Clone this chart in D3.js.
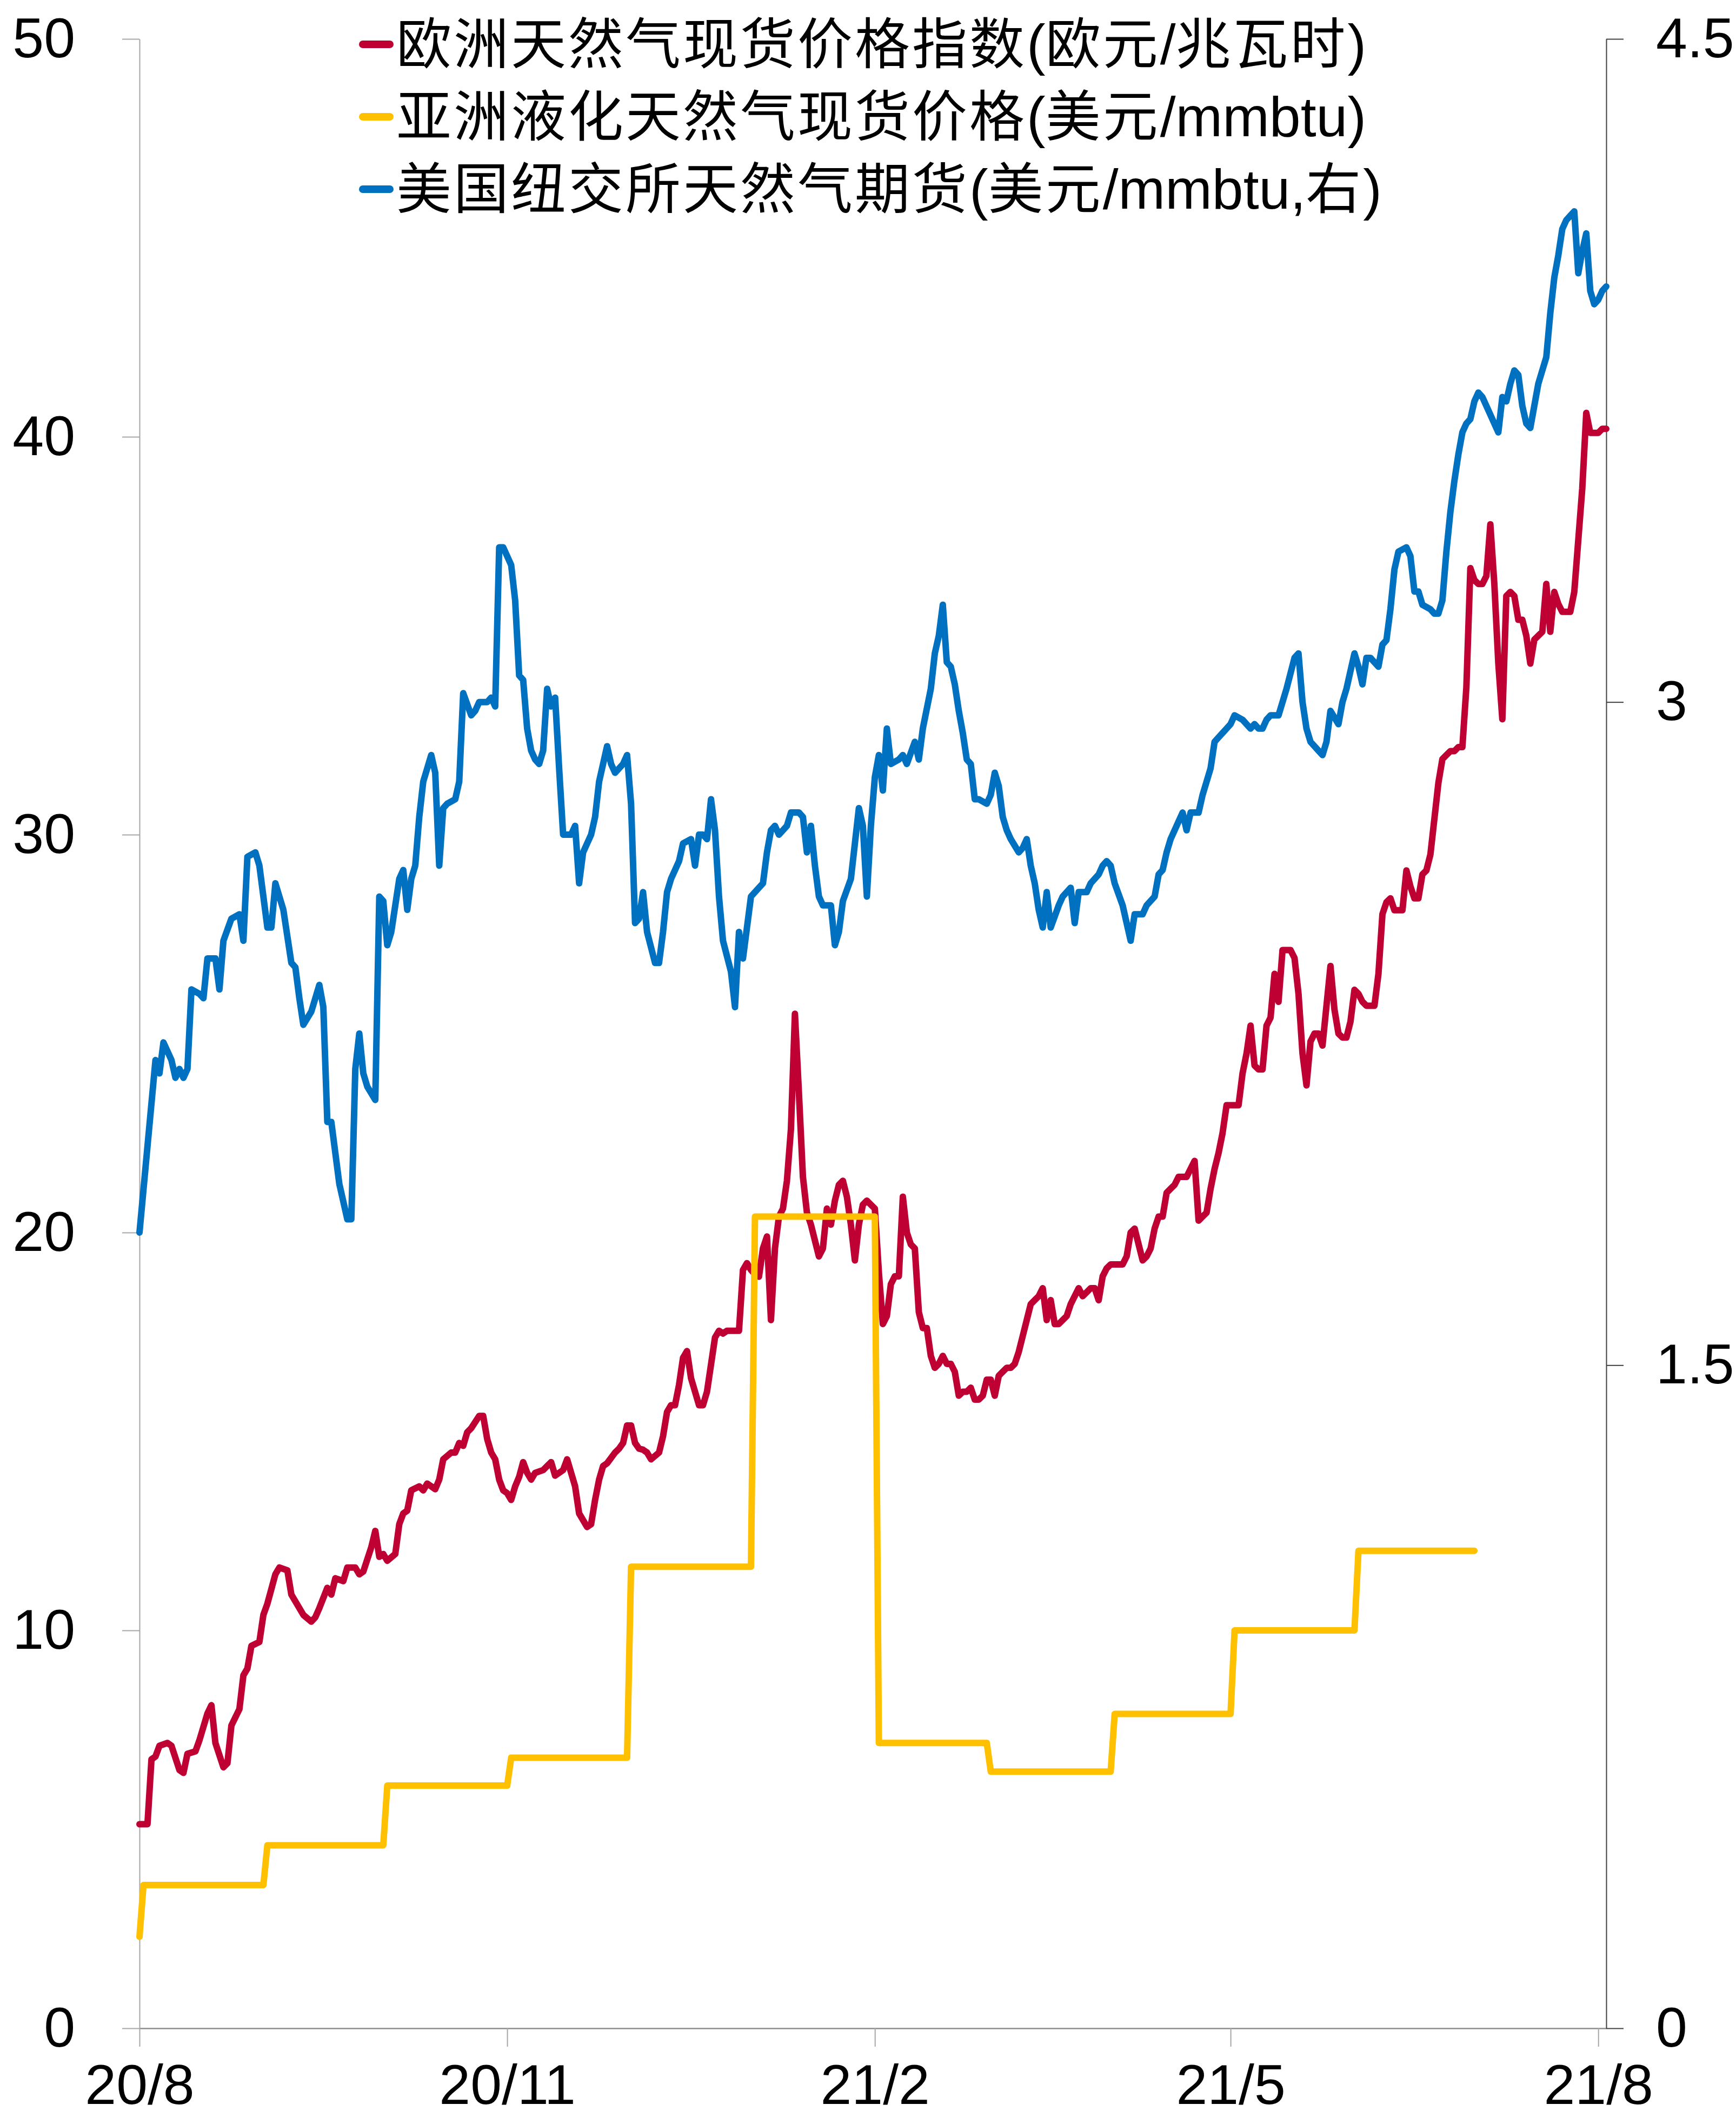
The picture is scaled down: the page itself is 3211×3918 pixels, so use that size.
<!DOCTYPE html>
<meta charset="utf-8">
<body style="margin:0;background:#fff">
<script src="https://cdnjs.cloudflare.com/ajax/libs/d3/7.8.5/d3.min.js"></script>
<script>
// x values are day offsets from 2020-08-01
var startDate = new Date(Date.UTC(2020, 7, 1));

// 欧洲天然气现货价格指数 (欧元/兆瓦时), left axis
var ttf = [[0,5.13],[2,5.13],[3,6.76],[4,6.83],[5,7.10],[7,7.17],[8,7.10],[10,6.49],[11,6.42],[12,6.90],[14,6.96],[15,7.24],[17,7.91],[18,8.12],[19,7.17],[21,6.56],[22,6.66],[23,7.61],[25,8.02],[26,8.87],[27,9.04],[28,9.61],[30,9.71],[31,10.39],[32,10.67],[34,11.41],[35,11.58],[37,11.51],[38,10.90],[39,10.73],[41,10.39],[43,10.22],[44,10.33],[45,10.56],[47,11.07],[48,10.90],[49,11.31],[51,11.24],[52,11.58],[54,11.58],[55,11.41],[56,11.48],[58,12.09],[59,12.50],[60,11.85],[61,11.92],[62,11.75],[64,11.92],[65,12.67],[66,12.94],[67,13.01],[68,13.52],[70,13.62],[71,13.52],[72,13.69],[74,13.55],[75,13.79],[76,14.30],[78,14.47],[79,14.47],[80,14.71],[81,14.64],[82,14.98],[83,15.08],[85,15.39],[86,15.39],[87,14.81],[88,14.47],[89,14.30],[90,13.79],[91,13.52],[92,13.45],[93,13.28],[94,13.62],[95,13.86],[96,14.23],[97,13.96],[98,13.79],[99,13.96],[101,14.03],[102,14.13],[103,14.23],[104,13.89],[106,14.03],[107,14.30],[108,13.96],[109,13.62],[110,12.94],[112,12.60],[113,12.67],[114,13.28],[115,13.79],[116,14.13],[117,14.20],[119,14.47],[120,14.57],[121,14.71],[122,15.15],[123,15.15],[124,14.71],[125,14.57],[126,14.54],[127,14.47],[128,14.30],[130,14.47],[131,14.88],[132,15.49],[133,15.66],[134,15.66],[135,16.17],[136,16.85],[137,17.02],[138,16.34],[140,15.66],[141,15.66],[142,16.00],[143,16.68],[144,17.36],[145,17.53],[146,17.46],[147,17.53],[148,17.53],[150,17.53],[151,19.06],[152,19.23],[153,19.06],[154,18.95],[155,18.89],[156,19.6],[157,19.9],[158,17.8],[159,19.6],[160,20.4],[161,20.6],[162,21.3],[163,22.6],[164,25.5],[165,23.5],[166,21.4],[167,20.5],[168,20.2],[169,19.8],[170,19.4],[171,19.6],[172,20.6],[173,20.2],[174,20.8],[175,21.2],[176,21.3],[177,20.9],[178,20.2],[179,19.3],[180,20.2],[181,20.7],[182,20.8],[183,20.7],[184,20.6],[185,19.0],[186,17.7],[187,17.9],[188,18.7],[189,18.9],[190,18.9],[191,20.9],[192,20.0],[193,19.7],[194,19.6],[195,18.0],[196,17.6],[197,17.6],[198,16.9],[199,16.6],[200,16.7],[201,16.9],[202,16.7],[203,16.7],[204,16.5],[205,15.9],[206,16.0],[207,16.0],[208,16.1],[209,15.8],[210,15.8],[211,15.9],[212,16.3],[213,16.3],[214,15.9],[215,16.4],[216,16.5],[217,16.6],[218,16.6],[219,16.7],[220,17.0],[221,17.4],[222,17.8],[223,18.2],[224,18.3],[225,18.4],[226,18.6],[227,17.8],[228,18.3],[229,17.7],[230,17.7],[232,17.9],[233,18.2],[234,18.4],[235,18.6],[236,18.4],[237,18.5],[238,18.6],[239,18.6],[240,18.3],[241,18.9],[242,19.1],[243,19.2],[244,19.2],[245,19.2],[246,19.2],[247,19.4],[248,20.0],[249,20.1],[250,19.7],[251,19.3],[252,19.4],[253,19.6],[254,20.1],[255,20.4],[256,20.4],[257,21.0],[258,21.1],[259,21.2],[260,21.4],[261,21.4],[262,21.4],[263,21.6],[264,21.8],[265,20.3],[266,20.4],[267,20.5],[268,21.1],[269,21.6],[270,22.0],[271,22.5],[272,23.2],[273,23.2],[274,23.2],[275,23.2],[276,24.0],[277,24.5],[278,25.2],[279,24.2],[280,24.1],[281,24.1],[282,25.2],[283,25.4],[284,26.5],[285,25.8],[286,27.1],[287,27.1],[288,27.1],[289,26.9],[290,26.0],[291,24.5],[292,23.7],[293,24.8],[294,25.0],[295,25.0],[296,24.7],[297,25.7],[298,26.7],[299,25.6],[300,25.0],[301,24.9],[302,24.9],[303,25.3],[304,26.1],[305,26.0],[306,25.8],[307,25.7],[308,25.7],[309,25.7],[310,26.5],[311,28.0],[312,28.3],[313,28.4],[314,28.1],[315,28.1],[316,28.1],[317,29.1],[318,28.7],[319,28.4],[320,28.4],[321,29.0],[322,29.1],[323,29.5],[324,30.4],[325,31.3],[326,31.9],[327,32.0],[328,32.1],[329,32.1],[330,32.2],[331,32.2],[332,33.7],[333,36.7],[334,36.4],[335,36.3],[336,36.3],[337,36.5],[338,37.8],[339,36.3],[340,34.3],[341,32.9],[342,36.0],[343,36.1],[344,36.0],[345,35.4],[346,35.4],[347,35.0],[348,34.3],[349,34.9],[350,35.0],[351,35.1],[352,36.3],[353,35.1],[354,36.1],[355,35.8],[356,35.6],[357,35.6],[358,35.6],[359,36.1],[360,37.4],[361,38.7],[362,40.6],[363,40.1],[364,40.1],[365,40.1],[366,40.2],[367,40.2]];

// 亚洲液化天然气现货价格 (美元/mmbtu), monthly, left axis
var lngMonths = ["2020-07","2020-08","2020-09","2020-10","2020-11","2020-12","2021-01","2021-02","2021-03","2021-04","2021-05","2021-06"];
var lngValues = [2.3, 3.6, 4.6, 6.1, 6.8, 11.6, 20.4, 7.17, 6.45, 7.9, 10.0, 12.0];
var lngEnd = "2021-07-01";

// 美国纽交所天然气期货 (美元/mmbtu), right axis
var hh = [[0,1.80],[4,2.19],[5,2.16],[6,2.23],[8,2.19],[9,2.15],[10,2.17],[11,2.15],[12,2.17],[13,2.35],[15,2.34],[16,2.33],[17,2.42],[19,2.42],[20,2.35],[21,2.46],[23,2.51],[25,2.52],[26,2.46],[27,2.65],[29,2.66],[30,2.63],[32,2.49],[33,2.49],[34,2.59],[36,2.53],[38,2.41],[39,2.40],[40,2.33],[41,2.27],[43,2.30],[45,2.36],[46,2.31],[47,2.05],[48,2.05],[50,1.91],[52,1.83],[53,1.83],[54,2.17],[55,2.25],[56,2.16],[57,2.13],[59,2.10],[60,2.56],[61,2.55],[62,2.45],[63,2.48],[65,2.60],[66,2.62],[67,2.53],[68,2.60],[69,2.63],[70,2.74],[71,2.82],[73,2.88],[74,2.84],[75,2.63],[76,2.76],[77,2.77],[79,2.78],[80,2.82],[81,3.02],[83,2.97],[84,2.98],[85,3.00],[87,3.00],[88,3.01],[89,2.99],[90,3.35],[91,3.35],[93,3.31],[94,3.23],[95,3.06],[96,3.05],[97,2.94],[98,2.89],[99,2.87],[100,2.86],[101,2.89],[102,3.03],[103,2.99],[104,3.01],[105,2.85],[106,2.70],[108,2.70],[109,2.72],[110,2.59],[111,2.66],[113,2.70],[114,2.74],[115,2.82],[117,2.90],[118,2.86],[119,2.84],[121,2.86],[122,2.88],[123,2.77],[124,2.50],[125,2.51],[126,2.57],[127,2.48],[129,2.41],[130,2.41],[131,2.48],[132,2.57],[133,2.60],[135,2.64],[136,2.68],[138,2.69],[139,2.63],[140,2.70],[141,2.70],[142,2.69],[143,2.78],[144,2.71],[145,2.56],[146,2.46],[148,2.39],[149,2.31],[150,2.48],[151,2.42],[153,2.56],[154,2.57],[156,2.59],[157,2.66],[158,2.71],[159,2.72],[160,2.70],[162,2.72],[163,2.75],[165,2.75],[166,2.74],[167,2.66],[168,2.72],[169,2.63],[170,2.56],[171,2.54],[173,2.54],[174,2.45],[175,2.48],[176,2.55],[178,2.60],[179,2.68],[180,2.76],[181,2.72],[182,2.56],[183,2.72],[184,2.83],[185,2.88],[186,2.80],[187,2.94],[188,2.86],[190,2.87],[191,2.88],[192,2.86],[194,2.91],[195,2.87],[196,2.94],[198,3.03],[199,3.11],[200,3.15],[201,3.22],[202,3.09],[203,3.08],[204,3.04],[205,2.98],[206,2.93],[207,2.87],[208,2.86],[209,2.78],[210,2.78],[212,2.77],[213,2.79],[214,2.84],[215,2.81],[216,2.74],[217,2.71],[218,2.69],[220,2.66],[221,2.67],[222,2.69],[223,2.63],[224,2.59],[225,2.53],[226,2.49],[227,2.57],[228,2.49],[230,2.54],[231,2.56],[233,2.58],[234,2.50],[235,2.57],[237,2.57],[238,2.59],[240,2.61],[241,2.63],[242,2.64],[243,2.63],[244,2.59],[246,2.54],[247,2.50],[248,2.46],[249,2.52],[251,2.52],[252,2.54],[254,2.56],[255,2.61],[256,2.62],[257,2.66],[258,2.69],[260,2.73],[261,2.75],[262,2.71],[263,2.75],[265,2.75],[266,2.79],[267,2.82],[268,2.85],[269,2.91],[270,2.92],[272,2.94],[273,2.95],[274,2.97],[276,2.96],[278,2.94],[279,2.95],[280,2.94],[281,2.94],[282,2.96],[283,2.97],[285,2.97],[286,3.00],[287,3.03],[289,3.10],[290,3.11],[291,3.00],[292,2.94],[293,2.91],[295,2.89],[296,2.88],[297,2.91],[298,2.98],[300,2.95],[301,3.00],[302,3.03],[303,3.07],[304,3.11],[305,3.08],[306,3.04],[307,3.10],[308,3.10],[310,3.08],[311,3.13],[312,3.14],[313,3.21],[314,3.30],[315,3.34],[317,3.35],[318,3.33],[319,3.25],[320,3.25],[321,3.22],[323,3.21],[324,3.20],[325,3.20],[326,3.23],[327,3.34],[328,3.43],[329,3.50],[330,3.56],[331,3.61],[332,3.63],[333,3.64],[334,3.68],[335,3.70],[336,3.69],[337,3.67],[338,3.65],[339,3.63],[340,3.61],[341,3.69],[342,3.68],[343,3.72],[344,3.75],[345,3.74],[346,3.67],[347,3.63],[348,3.62],[349,3.67],[350,3.72],[351,3.75],[352,3.78],[353,3.88],[354,3.96],[355,4.01],[356,4.07],[357,4.09],[358,4.10],[359,4.11],[360,3.97],[361,4.02],[362,4.06],[363,3.93],[364,3.90],[365,3.91],[366,3.93],[367,3.94]];

var leftTicks = [0, 10, 20, 30, 40, 50];
var rightTicks = [0, 1.5, 3, 4.5];
var xTickDates = ["2020-08-01", "2020-11-01", "2021-02-01", "2021-05-01", "2021-08-01"];
var xTickLabels = ["20/8", "20/11", "21/2", "21/5", "21/8"];
var legendNames = ["欧洲天然气现货价格指数(欧元/兆瓦时)", "亚洲液化天然气现货价格(美元/mmbtu)", "美国纽交所天然气期货(美元/mmbtu,右)"];
var colors = ["#BE0032", "#FFC000", "#0070C0"];

var width = 3211, height = 3918;
var margin = {top: 72, right: 240, bottom: 166, left: 258};
var numFont = "'Liberation Sans', Arial, sans-serif";
var cjkFont = "'Noto Sans CJK SC', sans-serif";

var parseDay = d3.utcParse("%Y-%m-%d");
var parseMonth = d3.utcParse("%Y-%m");
function dayDate(n) { return d3.utcDay.offset(startDate, n); }

var svg = d3.select("body").append("svg")
  .attr("width", width)
  .attr("height", height)
  .style("background", "#fff");

var x = d3.scaleUtc()
  .domain([startDate, dayDate(367)])
  .range([margin.left, width - margin.right]);
var yL = d3.scaleLinear().domain([0, 50]).range([height - margin.bottom, margin.top]);
var yR = d3.scaleLinear().domain([0, 4.5]).range([height - margin.bottom, margin.top]);

// axes
var bottomAxis = svg.append("g")
  .attr("transform", "translate(0," + (height - margin.bottom) + ")")
  .call(d3.axisBottom(x).tickValues(xTickDates.map(parseDay)).tickSize(34).tickSizeOuter(0).tickPadding(32)
    .tickFormat(function(d, i) { return xTickLabels[i]; }));
bottomAxis.select(".domain").attr("stroke", "#8C8C8C").attr("stroke-width", 2.5);
bottomAxis.selectAll(".tick line").attr("stroke", "#A6A6A6").attr("stroke-width", 2);

var leftAxis = svg.append("g")
  .attr("transform", "translate(" + margin.left + ",0)")
  .call(d3.axisLeft(yL).tickValues(leftTicks).tickSize(32).tickSizeOuter(0).tickPadding(87));
leftAxis.select(".domain").attr("stroke", "#A6A6A6").attr("stroke-width", 2);
leftAxis.selectAll(".tick line").attr("stroke", "#A6A6A6").attr("stroke-width", 2);

var rightAxis = svg.append("g")
  .attr("transform", "translate(" + (width - margin.right) + ",0)")
  .call(d3.axisRight(yR).tickValues(rightTicks).tickSize(32).tickSizeOuter(0).tickPadding(60)
    .tickFormat(function(d) { return String(d); }));
rightAxis.select(".domain").attr("stroke", "#404040").attr("stroke-width", 2);
rightAxis.selectAll(".tick line").attr("stroke", "#404040").attr("stroke-width", 2);

svg.selectAll(".tick text")
  .attr("fill", "#000")
  .style("font-family", numFont)
  .style("font-size", "104px");

// series
var lineL = d3.line()
  .x(function(d) { return x(d[0]); })
  .y(function(d) { return yL(d[1]); });
var lineR = d3.line()
  .x(function(d) { return x(d[0]); })
  .y(function(d) { return yR(d[1]); });

var ttfPts = ttf.map(function(d) { return [dayDate(d[0]), d[1]]; });
var hhPts = hh.map(function(d) { return [dayDate(d[0]), d[1]]; });

// monthly LNG price held through the month
var lngPts = [[startDate, lngValues[0]]];
for (var i = 1; i < lngMonths.length; i++) {
  var m = parseMonth(lngMonths[i]);
  lngPts.push([m, lngValues[i - 1]]);
  lngPts.push([d3.utcDay.offset(m, 1), lngValues[i]]);
}
lngPts.push([parseDay(lngEnd), lngValues[lngValues.length - 1]]);

var series = [
  {pts: ttfPts, line: lineL, color: colors[0]},
  {pts: lngPts, line: lineL, color: colors[1]},
  {pts: hhPts, line: lineR, color: colors[2]}
];

svg.append("g").selectAll("path")
  .data(series)
  .enter().append("path")
  .attr("d", function(s) { return s.line(s.pts); })
  .attr("fill", "none")
  .attr("stroke", function(s) { return s.color; })
  .attr("stroke-width", 12)
  .attr("stroke-linejoin", "round")
  .attr("stroke-linecap", "round");

// legend: CJK text in the CJK font, latin runs in the latin font
var legend = svg.append("g").attr("transform", "translate(665,82)");
var item = legend.selectAll("g")
  .data(legendNames)
  .enter().append("g")
  .attr("transform", function(d, i) { return "translate(0," + (i * 134) + ")"; });
item.append("line")
  .attr("x1", 6).attr("x2", 56)
  .attr("y1", 0).attr("y2", 0)
  .attr("stroke", function(d, i) { return colors[i]; })
  .attr("stroke-width", 14)
  .attr("stroke-linecap", "round");
var label = item.append("text")
  .attr("x", 68)
  .attr("y", 36)
  .style("font-size", "102px");
label.selectAll("tspan")
  .data(function(d) { return d.match(/[\x00-\x7F]+|[^\x00-\x7F]+/g); })
  .enter().append("tspan")
  .style("font-family", function(r) { return /^[\x00-\x7F]+$/.test(r) ? numFont : cjkFont; })
  .style("font-size", function(r) { return /^[\x00-\x7F]+$/.test(r) ? "104px" : "102px"; })
  .style("letter-spacing", function(r) { return /^[\x00-\x7F]+$/.test(r) ? "0px" : "4px"; })
  .text(function(r) { return r; });
</script>
</body>
